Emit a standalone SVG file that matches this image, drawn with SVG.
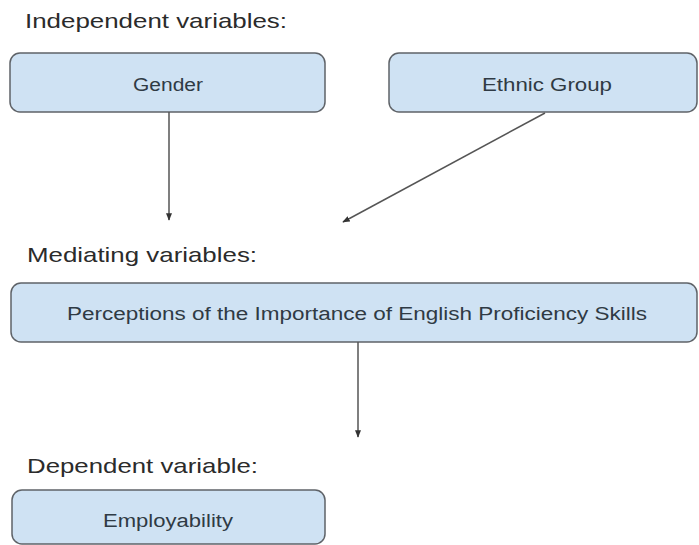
<svg xmlns="http://www.w3.org/2000/svg" width="699" height="545" viewBox="0 0 699 545">
  <style>
    .heading { font-family: "Liberation Sans", Arial, sans-serif; font-size: 21px; fill: #2b2b2b; }
    .box { fill: #cfe2f3; stroke: #5f6368; stroke-width: 1.5; }
    .label { font-family: "Liberation Sans", Arial, sans-serif; font-size: 18px; fill: #2f3a44; text-anchor: middle; }
    .conn { stroke: #555555; stroke-width: 1.5; fill: none; marker-end: url(#arrow); }
  </style>
  <defs>
    <marker id="arrow" viewBox="0 0 10 10" refX="9" refY="5" markerWidth="5" markerHeight="5" orient="auto" markerUnits="strokeWidth">
      <path d="M0,1 L10,5 L0,9 Z" fill="#333333"/>
    </marker>
  </defs>
  <rect width="699" height="545" fill="#ffffff"/>

  <text class="heading" x="25" y="28" textLength="262" lengthAdjust="spacingAndGlyphs">Independent variables:</text>
  <text class="heading" x="27" y="262" textLength="230" lengthAdjust="spacingAndGlyphs">Mediating variables:</text>
  <text class="heading" x="27" y="473" textLength="231" lengthAdjust="spacingAndGlyphs">Dependent variable:</text>

  <g id="gender">
    <rect class="box" x="10" y="53" width="315" height="59" rx="10" ry="10"/>
    <text class="label" x="168" y="91" textLength="70" lengthAdjust="spacingAndGlyphs">Gender</text>
  </g>
  <g id="ethnic-group">
    <rect class="box" x="389" y="53" width="308" height="59" rx="10" ry="10"/>
    <text class="label" x="547" y="91" textLength="130" lengthAdjust="spacingAndGlyphs">Ethnic Group</text>
  </g>
  <g id="perceptions">
    <rect class="box" x="11" y="283" width="686" height="59" rx="10" ry="10"/>
    <text class="label" x="357" y="320" textLength="580" lengthAdjust="spacingAndGlyphs">Perceptions of the Importance of English Proficiency Skills</text>
  </g>
  <g id="employability">
    <rect class="box" x="12" y="490" width="313" height="54" rx="10" ry="10"/>
    <text class="label" x="168" y="527" textLength="130" lengthAdjust="spacingAndGlyphs">Employability</text>
  </g>

  <g id="connectors">
    <line class="conn" x1="169" y1="112" x2="169" y2="220"/>
    <line class="conn" x1="545" y1="113" x2="343" y2="222"/>
    <line class="conn" x1="358" y1="342" x2="358" y2="437"/>
  </g>
</svg>
